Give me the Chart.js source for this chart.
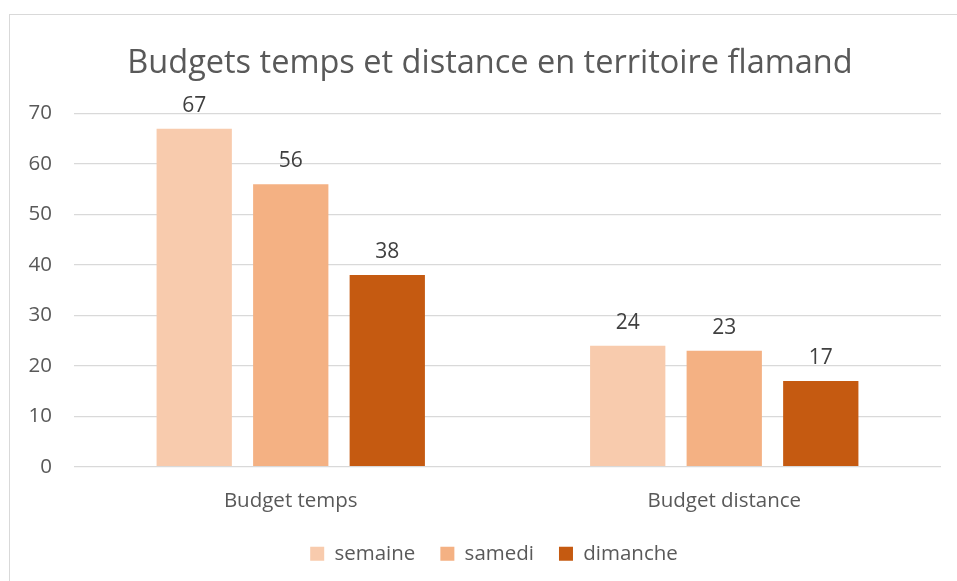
<!DOCTYPE html>
<html lang="fr">
<head>
<meta charset="utf-8">
<title>Budgets temps et distance en territoire flamand</title>
<script src="https://cdn.jsdelivr.net/npm/chart.js@4/dist/chart.umd.min.js"></script>
<style>
    html, body { margin: 0; padding: 0; background: #fff; overflow: hidden; }
    #wrap { position: relative; width: 957px; height: 581px; }
    /* cadre gris du graphique, coupé à droite et en bas */
    #cadre { position: absolute; left: 9px; top: 14px; width: 1000px; height: 1000px;
             border: 1px solid #d9d9d9; box-sizing: border-box; }
    #chart { position: absolute; left: 0; top: 0; }
</style>
</head>
<body>
<div id="wrap">
    <div id="cadre"></div>
    <canvas id="chart" width="957" height="581"></canvas>
</div>
<script>
const categories = ['Budget temps', 'Budget distance'];
const semaine = [67, 24];
const samedi = [56, 23];
const dimanche = [38, 17];
const yTicks = [0, 10, 20, 30, 40, 50, 60, 70];

const TEXTE = '#595959';
Chart.defaults.font.family = "'Open Sans', sans-serif";
Chart.defaults.color = TEXTE;

/* Étiquettes de valeur au-dessus de chaque barre */
const etiquettes = {
    id: 'etiquettes',
    afterDatasetsDraw(chart) {
        const ctx = chart.ctx;
        ctx.save();
        ctx.font = "21px 'Open Sans', sans-serif";
        ctx.fillStyle = '#404040';
        ctx.textAlign = 'center';
        ctx.textBaseline = 'alphabetic';
        chart.data.datasets.forEach((ds, i) => {
            chart.getDatasetMeta(i).data.forEach((bar, j) => {
                ctx.fillText(String(ds.data[j]), bar.x, bar.y - 17);
            });
        });
        ctx.restore();
    }
};

/* Titre et légende centrés sur le cadre plutôt que sur tout le canvas */
const recentrer = {
    id: 'recentrer',
    afterLayout(chart) {
        const decaler = (box, dx) => { box.left += dx; box.right += dx; };
        decaler(chart.titleBlock, 15);
        decaler(chart.legend, 19);
    }
};

const dataChart = new Chart(
    document.getElementById('chart'),
    {
    type: 'bar',
    data: {
        labels: categories,
        datasets: [
            { label: 'semaine', data: semaine, backgroundColor: '#F8CBAD' },
            { label: 'samedi', data: samedi, backgroundColor: '#F4B183' },
            { label: 'dimanche', data: dimanche, backgroundColor: '#C55A11' }
        ]
    },
    options: {
        responsive: false,
        animation: false,
        categoryPercentage: 0.668,
        barPercentage: 0.78,
        layout: {
            padding: { left: 9, right: 16, top: 44, bottom: 7 }
        },
        plugins: {
            title: {
                display: true,
                text: 'Budgets temps et distance en territoire flamand',
                color: TEXTE,
                font: { size: 32.5, weight: 'normal' },
                padding: { top: 0, bottom: 30.6 }
            },
            legend: {
                position: 'bottom',
                labels: {
                    boxWidth: 14,
                    boxHeight: 14,
                    padding: 25,
                    color: TEXTE,
                    font: { size: 20.5 }
                }
            },
            tooltip: { enabled: false }
        },
        scales: {
            x: {
                grid: { display: false, drawTicks: false },
                border: { display: false },
                ticks: { padding: 22, color: TEXTE, font: { size: 20.5 } },
                afterFit(scale) { scale.height = 51.8; }
            },
            y: {
                min: 0,
                max: 70,
                afterBuildTicks(scale) { scale.ticks = yTicks.map(v => ({ value: v })); },
                grid: { color: '#d9d9d9', lineWidth: 1.3, drawTicks: false },
                border: { display: false },
                ticks: { padding: 22, color: TEXTE, font: { size: 20.5 } },
                afterFit(scale) { scale.width = 65; }
            }
        }
    },
    plugins: [etiquettes, recentrer]
    }
);
</script>
</body>
</html>
